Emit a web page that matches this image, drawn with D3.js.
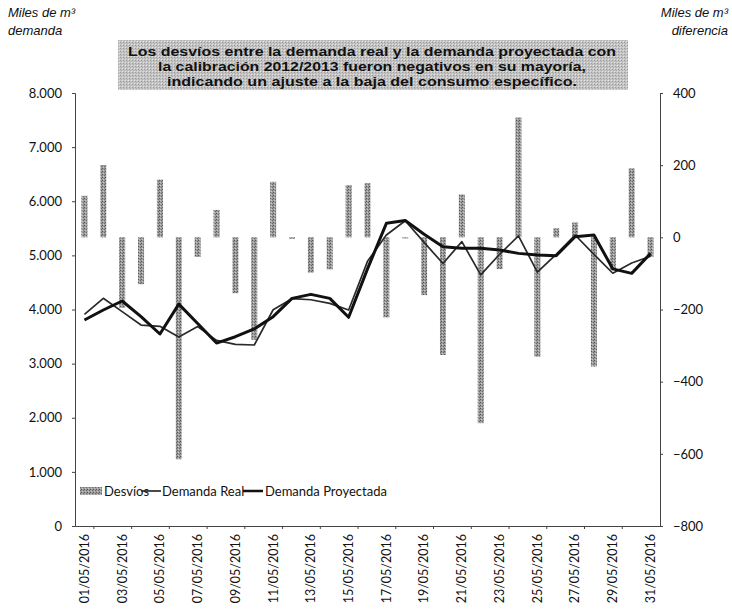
<!DOCTYPE html>
<html><head><meta charset="utf-8">
<script src="https://cdn.jsdelivr.net/npm/d3@7/dist/d3.min.js"></script>
<style>body{margin:0;background:#fff}svg{display:block}</style>
</head><body>
<svg id="c" width="732" height="610"></svg>
<script>
const categories = ["01/05/2016","02/05/2016","03/05/2016","04/05/2016","05/05/2016","06/05/2016","07/05/2016","08/05/2016","09/05/2016","10/05/2016","11/05/2016","12/05/2016","13/05/2016","14/05/2016","15/05/2016","16/05/2016","17/05/2016","18/05/2016","19/05/2016","20/05/2016","21/05/2016","22/05/2016","23/05/2016","24/05/2016","25/05/2016","26/05/2016","27/05/2016","28/05/2016","29/05/2016","30/05/2016","31/05/2016"];
const desvios = [115,200,-195,-130,160,-615,-54,76,-155,-284,154,-4,-98,-89,145,150,-222,-3,-160,-326,119,-515,-88,332,-331,25,41,-358,-91,191,-54];
const demandaReal = [3911,4207,3960,3713,3690,3490,3684,3430,3356,3344,3995,4200,4180,4114,3990,4890,5376,5640,5240,4850,5253,4640,5020,5360,4690,5020,5376,5020,4670,4860,4985];
const demandaProyectada = [3806,3991,4157,3867,3547,4100,3740,3380,3497,3640,3867,4206,4280,4206,3856,4750,5592,5645,5390,5160,5130,5130,5099,5037,5007,4995,5345,5376,4750,4668,5037];
const leftTicks = [0,1000,2000,3000,4000,5000,6000,7000,8000];
const rightTicks = [-800,-600,-400,-200,0,200,400];
const titleLines = ["Los desvíos entre la demanda real y la demanda proyectada con","la calibración 2012/2013 fueron negativos en su mayoría,","indicando un ajuste a la baja del consumo específico."];
const legendItems = ["Desvíos","Demanda Real","Demanda Proyectada"];

const svg = d3.select("#c");
const font = "Lato, 'Open Sans', sans-serif";
const L = 75, R = 660, T = 93, B = 526;

const defs = svg.append("defs");
const pb = defs.append("pattern").attr("id","barPat").attr("width",3).attr("height",3).attr("patternUnits","userSpaceOnUse");
pb.append("rect").attr("width",3).attr("height",3).attr("fill","#9c9c9c");
pb.append("rect").attr("x",0).attr("y",0).attr("width",1).attr("height",1).attr("fill","#555");
pb.append("rect").attr("x",2).attr("y",1).attr("width",1).attr("height",1).attr("fill","#6a6a6a");
pb.append("rect").attr("x",1).attr("y",2).attr("width",1).attr("height",1).attr("fill","#c8c8c8");
const pt = defs.append("pattern").attr("id","boxPat").attr("width",3).attr("height",3).attr("patternUnits","userSpaceOnUse");
pt.append("rect").attr("width",3).attr("height",3).attr("fill","#c4c4c4");
pt.append("rect").attr("x",0).attr("y",0).attr("width",1).attr("height",1).attr("fill","#9a9a9a");
pt.append("rect").attr("x",2).attr("y",2).attr("width",1).attr("height",1).attr("fill","#e4e4e4");
pt.append("rect").attr("x",1).attr("y",1).attr("width",1).attr("height",1).attr("fill","#b0b0b0");

const x = d3.scaleBand().domain(categories).range([L, R]).padding(0);
const yL = d3.scaleLinear().domain([0, 8000]).range([B, T]);
const yR = d3.scaleLinear().domain([-800, 400]).range([B, T]);
const loc = d3.formatLocale({decimal:",", thousands:".", grouping:[3], currency:["",""]});
const fmtL = loc.format(",");

// axis titles
const at = svg.append("g").attr("font-family","'Liberation Sans', Arial, sans-serif").attr("font-style","italic").attr("font-size",13).attr("fill","#111");
at.append("text").attr("x",8).attr("y",17).text("Miles de m³");
at.append("text").attr("x",8).attr("y",35).text("demanda");
at.append("text").attr("x",728).attr("y",17).attr("text-anchor","end").text("Miles de m³");
at.append("text").attr("x",728).attr("y",35).attr("text-anchor","end").text("diferencia");

// title box
svg.append("rect").attr("x",118).attr("y",40).attr("width",510).attr("height",50).attr("fill","url(#boxPat)");
const tg = svg.append("g").attr("font-family","'Liberation Sans', Arial, sans-serif").attr("font-weight","bold").attr("font-size",13.5).attr("fill","#111").attr("text-anchor","middle");
const tLen = [488, 428, 410];
titleLines.forEach((t,i)=>{
  tg.append("text").attr("x",372).attr("y",56+i*15).attr("textLength",tLen[i]).attr("lengthAdjust","spacingAndGlyphs").text(t);
});

// bars
const bw = 6;
svg.append("g").selectAll("rect").data(desvios).join("rect")
  .attr("x",(d,i)=>x(categories[i]) + x.bandwidth()/2 - bw/2)
  .attr("width",bw)
  .attr("y",d=>yR(Math.max(0,d)))
  .attr("height",d=>Math.max(1,Math.abs(yR(d)-yR(0))))
  .attr("fill","url(#barPat)");

// lines
const cx = i => x(categories[i]) + x.bandwidth()/2;
const lineL = d3.line().x((d,i)=>cx(i)).y(d=>yL(d));
svg.append("path").datum(demandaReal).attr("d",lineL).attr("fill","none").attr("stroke","#2a2a2a").attr("stroke-width",1.7).attr("stroke-linejoin","round");
svg.append("path").datum(demandaProyectada).attr("d",lineL).attr("fill","none").attr("stroke","#111").attr("stroke-width",3).attr("stroke-linejoin","round");

// axes
const gl = svg.append("g").attr("transform",`translate(${L},0)`).call(d3.axisLeft(yL).tickValues(leftTicks).tickFormat(fmtL).tickSize(3).tickPadding(10));
gl.selectAll("text").attr("font-family",font).attr("font-size",13).attr("fill","#111");
gl.selectAll("path,line").attr("stroke","#444");
const gr = svg.append("g").attr("transform",`translate(${R},0)`).call(d3.axisRight(yR).tickValues(rightTicks).tickSize(3).tickPadding(10));
gr.selectAll("text").attr("font-family",font).attr("font-size",13).attr("fill","#111");
gr.selectAll("path,line").attr("stroke","#444");
const gx = svg.append("g").attr("transform",`translate(0,${B})`).call(d3.axisBottom(x).tickValues(categories.filter((d,i)=>i%2===0)).tickSize(0).tickPadding(0));
gx.select(".domain").attr("stroke","#444");
gx.selectAll("text").attr("font-family",font).attr("font-size",12.5).attr("fill","#111")
  .attr("transform","rotate(-90)").attr("text-anchor","end").attr("x",-8).attr("y",0).attr("dy","0.35em");
// band boundary ticks
svg.append("g").selectAll("line").data(categories.filter((d,i)=>i%2===1)).join("line")
  .attr("x1",d=>x(d)).attr("x2",d=>x(d)).attr("y1",B).attr("y2",B+3).attr("stroke","#444");

// legend
const lg = svg.append("g").attr("font-family",font).attr("font-size",13).attr("fill","#111");
lg.append("rect").attr("x",80).attr("y",487).attr("width",22).attr("height",8).attr("fill","url(#barPat)");
lg.append("text").attr("x",104).attr("y",496).text(legendItems[0]);
lg.append("line").attr("x1",141).attr("x2",161).attr("y1",491).attr("y2",491).attr("stroke","#2a2a2a").attr("stroke-width",1.7);
lg.append("text").attr("x",162).attr("y",496).text(legendItems[1]);
lg.append("line").attr("x1",243).attr("x2",263).attr("y1",491).attr("y2",491).attr("stroke","#111").attr("stroke-width",2.5);
lg.append("text").attr("x",265).attr("y",496).text(legendItems[2]);
</script>
</body></html>
